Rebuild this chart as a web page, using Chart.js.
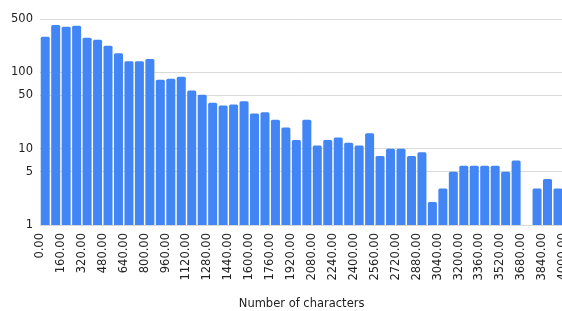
<!DOCTYPE html>
<html>
<head>
<meta charset="utf-8">
<script src="https://cdn.jsdelivr.net/npm/chart.js@4/dist/chart.umd.min.js"></script>
<style>
  html, body { margin: 0; padding: 0; overflow: hidden; background: #fff; }
  #wrap { width: 585px; height: 311px; }
</style>
</head>
<body>
<div id="wrap"><canvas id="c"></canvas></div>
<script>
const binStarts = [0, 80, 160, 240, 320, 400, 480, 560, 640, 720,
  800, 880, 960, 1040, 1120, 1200, 1280, 1360, 1440, 1520,
  1600, 1680, 1760, 1840, 1920, 2000, 2080, 2160, 2240, 2320,
  2400, 2480, 2560, 2640, 2720, 2800, 2880, 2960, 3040, 3120,
  3200, 3280, 3360, 3440, 3520, 3600, 3680, 3760, 3840, 3920];
const counts = [294, 418, 397, 409, 285, 269, 224, 178, 140, 140,
  150, 80, 83, 88, 58, 51, 40, 37, 38, 42,
  29, 30, 24, 19, 13, 24, 11, 13, 14, 12,
  11, 16, 8, 10, 10, 8, 9, 2, 3, 5,
  6, 6, 6, 6, 5, 7, 0, 3, 4, 3];
const xTicks = [0, 160, 320, 480, 640, 800, 960, 1120, 1280, 1440, 1600, 1760, 1920,
  2080, 2240, 2400, 2560, 2720, 2880, 3040, 3200, 3360, 3520, 3680, 3840, 4000];
const yTicks = [1, 5, 10, 50, 100, 500];
const xTitle = 'Number of characters';

const binWidth = binStarts[1] - binStarts[0];
const points = binStarts.map((b, i) => ({ x: b + binWidth / 2, y: counts[i] }));

const FONT = { family: "'DejaVu Sans', Verdana, sans-serif", size: 11.5 };
const TEXT = '#222222';

new Chart(document.getElementById('c'), {
  type: 'bar',
  data: {
    datasets: [{
      data: points,
      backgroundColor: '#4285F4',
      borderWidth: 0,
      borderRadius: { topLeft: 1.5, topRight: 1.5, bottomLeft: 0, bottomRight: 0 },
      borderSkipped: 'start',
      barPercentage: 0.86,
      categoryPercentage: 1.0
    }]
  },
  options: {
    responsive: true,
    maintainAspectRatio: false,
    animation: false,
    layout: { padding: { left: 0, right: 7, top: 0, bottom: 0 } },
    plugins: { legend: { display: false }, tooltip: { enabled: false } },
    scales: {
      x: {
        type: 'linear',
        offset: false,
        min: 0,
        max: 4000,
        afterBuildTicks: (axis) => { axis.ticks = xTicks.map(v => ({ value: v })); },
        afterFit: (axis) => { axis.height = 86; },
        grid: { display: false, drawTicks: false, offset: false },
        border: { display: false },
        ticks: {
          autoSkip: false,
          minRotation: 90,
          maxRotation: 90,
          padding: 8,
          color: TEXT,
          font: FONT,
          callback: (v) => Number(v).toFixed(2)
        },
        title: {
          display: true,
          text: xTitle,
          color: TEXT,
          font: FONT,
          padding: { top: 6, bottom: 0 }
        }
      },
      y: {
        type: 'logarithmic',
        min: 1,
        max: 586,
        afterBuildTicks: (axis) => { axis.ticks = yTicks.map(v => ({ value: v })); },
        afterFit: (axis) => { axis.width = 40; },
        grid: { color: '#d9d9d9', lineWidth: 1, drawTicks: false },
        border: { display: false },
        ticks: {
          padding: 7,
          color: TEXT,
          font: FONT,
          callback: (v) => String(v)
        }
      }
    }
  }
});
</script>
</body>
</html>
